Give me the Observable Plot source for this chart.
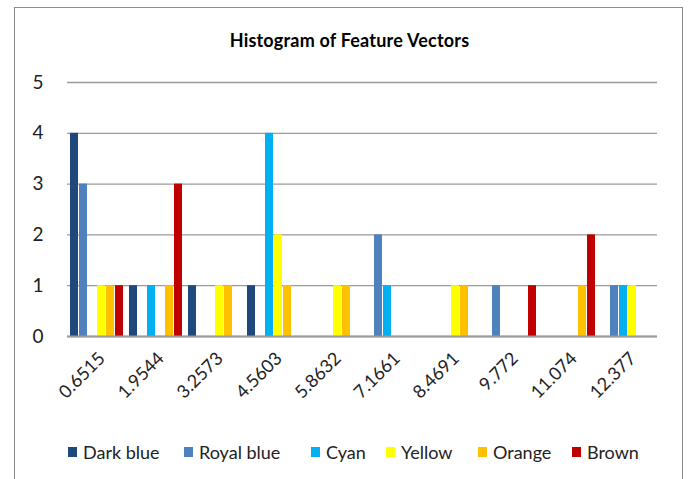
<!DOCTYPE html>
<html><head><meta charset="utf-8">
<script src="https://cdn.jsdelivr.net/npm/d3@7"></script>
<script src="https://cdn.jsdelivr.net/npm/@observablehq/plot@0.6"></script>
<style>
body{margin:0;background:#fff;font-family:Lato, sans-serif;}
#wrap{position:relative;width:691px;height:479px;overflow:hidden;background:#fff;}
#frame{position:absolute;left:14px;top:7px;width:667px;height:500px;border:1px solid #8c8c8c;}
#title{position:absolute;left:0;width:699px;top:29px;text-align:center;font-weight:bold;font-size:18px;letter-spacing:0.2px;color:#000;}
#chart{position:absolute;left:0;top:0;}
.leg{position:absolute;top:441px;font-size:18px;color:#222;display:flex;align-items:center;white-space:nowrap;}
.sw{width:9px;height:10px;margin-right:6px;}
</style>
</head><body>
<div id="wrap">
<div id="frame"></div>
<div id="chart"></div>
<div id="title">Histogram of Feature Vectors</div>
<div id="legend"></div>
</div>
<script>
const categories = ["0.6515","1.9544","3.2573","4.5603","5.8632","7.1661","8.4691","9.772","11.074","12.377"];
const seriesNames = ["Dark blue","Royal blue","Cyan","Yellow","Orange","Brown"];
const seriesColors = ["#1F497D","#4F81BD","#00B0F0","#FFFF00","#FFC000","#C00000"];
const darkBlue  = [4,1,1,1,0,0,0,0,0,0];
const royalBlue = [3,0,0,0,0,2,0,1,0,1];
const cyan      = [0,1,0,4,0,1,0,0,0,1];
const yellow    = [1,0,1,2,1,0,1,0,0,1];
const orange    = [1,1,1,1,1,0,1,0,1,0];
const brown     = [1,3,0,0,0,0,0,1,2,0];
const yTicks = [0,1,2,3,4,5];
const seriesValues = [darkBlue, royalBlue, cyan, yellow, orange, brown];

const rows = [];
categories.forEach((c, i) => seriesNames.forEach((s, j) => rows.push({cat: c, series: s, value: seriesValues[j][i]})));

const chart = Plot.plot({
  width: 691, height: 425,
  marginLeft: 65, marginRight: 33, marginTop: 82, marginBottom: 89,
  style: {fontFamily: "Lato, sans-serif", color: "#222", background: "transparent"},
  fx: {domain: categories, padding: 0},
  x: {domain: seriesNames, paddingInner: 0.1, paddingOuter: 0.23, axis: null},
  y: {domain: [0, 5]},
  color: {domain: seriesNames, range: seriesColors},
  marks: [
    Plot.ruleY(yTicks, {stroke: "#9a9a9a", strokeWidth: 1.3}),
    Plot.barY(rows.filter(d => d.value > 0), {fx: "cat", x: "series", y: "value", fill: "series"}),
    Plot.ruleY([0], {stroke: "#9a9a9a", strokeWidth: 1.8}),
    Plot.axisY(yTicks, {tickSize: 0, tickPadding: 24, tickFormat: d => String(d), fontSize: 19, label: null}),
    Plot.axisFx({anchor: "bottom", tickRotate: -45, tickSize: 0, tickPadding: 12, dy: 7, dx: 5, fontSize: 18, label: null})
  ]
});
document.getElementById("chart").appendChild(chart);

const legendX = [68, 184, 311, 386, 478, 572];
const legend = document.getElementById("legend");
seriesNames.forEach((s, j) => {
  const d = document.createElement("div");
  d.className = "leg";
  d.style.left = legendX[j] + "px";
  d.innerHTML = `<span class="sw" style="background:${seriesColors[j]}"></span>${s}`;
  legend.appendChild(d);
});
</script>
</body></html>
